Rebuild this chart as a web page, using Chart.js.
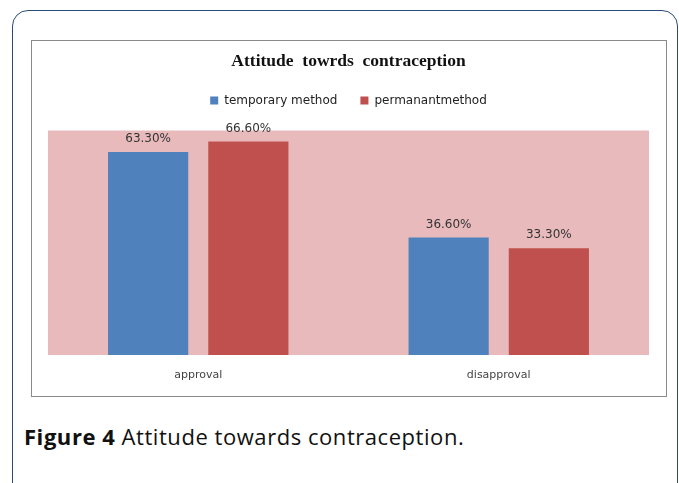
<!DOCTYPE html>
<html>
<head>
<meta charset="utf-8">
<script src="https://cdn.jsdelivr.net/npm/chart.js@4"></script>
<style>
  body { margin: 0; background: #fff; width: 679px; height: 483px; overflow: hidden; position: relative; }
  #frame { position: absolute; left: 12px; top: 10px; width: 666px; height: 490px; border: 1.5px solid #2b4b78; border-radius: 16px; box-sizing: border-box; }
  #box { position: absolute; left: 31px; top: 40px; width: 636px; height: 357px; border: 1px solid #8a8a8a; box-sizing: border-box; background: #fff; }
  #box canvas { display: block; }
  #caption { position: absolute; left: 24px; top: 421px; font-family: "Open Sans", sans-serif; font-size: 22px; letter-spacing: 0.55px; color: #111; white-space: nowrap; }
</style>
</head>
<body>
<div id="frame"></div>
<div id="box"><canvas id="grafico" width="634" height="355"></canvas></div>
<div id="caption"><b>Figure 4</b> Attitude towards contraception.</div>
<script>
const categorias = ["approval", "disapproval"];
const temporal = [63.3, 36.6];
const permanente = [66.6, 33.3];
const etiquetasSerie = ["temporary method", "permanantmethod"];

// fondo rosado del area del grafico
const fondoArea = {
  id: "fondoArea",
  beforeDraw(chart) {
    const a = chart.chartArea;
    const c = chart.ctx;
    c.save();
    c.fillStyle = "#e8babc";
    c.fillRect(a.left, a.top, a.right - a.left, a.bottom - a.top);
    c.restore();
  }
};

// espacio extra debajo de la leyenda
const espacioLeyenda = {
  id: "espacioLeyenda",
  beforeInit(chart) {
    const fitOrig = chart.legend.fit;
    chart.legend.fit = function () {
      fitOrig.call(this);
      this.height += 14;
    };
  }
};

// valores encima de las barras
const etiquetas = {
  id: "etiquetas",
  afterDatasetsDraw(chart) {
    const c = chart.ctx;
    c.save();
    c.font = "12px 'DejaVu Sans', sans-serif";
    c.fillStyle = "#333";
    c.textAlign = "center";
    c.textBaseline = "bottom";
    chart.data.datasets.forEach((ds, i) => {
      chart.getDatasetMeta(i).data.forEach((bar, j) => {
        c.fillText(ds.data[j].toFixed(2) + "%", bar.x, bar.y - 7);
      });
    });
    c.restore();
  }
};

new Chart(document.getElementById("grafico"), {
  type: "bar",
  data: {
    labels: categorias,
    datasets: [
      { label: etiquetasSerie[0], data: temporal, backgroundColor: "#4f81bd" },
      { label: etiquetasSerie[1], data: permanente, backgroundColor: "#c0504d" }
    ]
  },
  options: {
    responsive: false,
    animation: false,
    devicePixelRatio: 1,
    layout: { padding: { left: 16, right: 17, top: 0, bottom: 0 } },
    datasets: { bar: { categoryPercentage: 0.667, barPercentage: 0.8 } },
    plugins: {
      title: {
        display: true,
        text: "Attitude  towrds  contraception",
        font: { family: "'Liberation Serif', serif", size: 17.5, weight: "bold" },
        color: "#111",
        padding: { top: 9.5, bottom: 0 }
      },
      legend: {
        display: true,
        labels: {
          boxWidth: 8, boxHeight: 8, padding: 23,
          font: { family: "'DejaVu Sans', sans-serif", size: 12 },
          color: "#222"
        }
      },
      tooltip: { enabled: false }
    },
    scales: {
      x: {
        grid: { display: false, drawTicks: false },
        border: { display: false },
        ticks: { color: "#444", font: { family: "'DejaVu Sans', sans-serif", size: 11, lineHeight: 1 }, padding: 15 }
      },
      y: { display: false, min: 0, max: 70 }
    }
  },
  plugins: [fondoArea, espacioLeyenda, etiquetas]
});
</script>
</body>
</html>
